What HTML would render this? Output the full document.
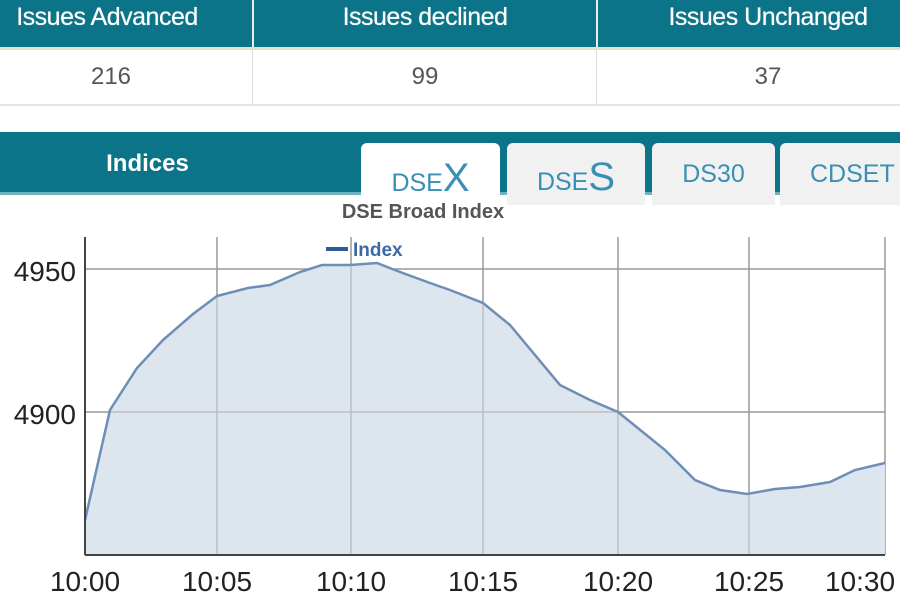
<!DOCTYPE html>
<html><head><meta charset="utf-8"><style>
body{margin:0;width:900px;height:600px;overflow:hidden;background:#fff;font-family:"Liberation Sans",Arial,sans-serif;position:relative}
.a{position:absolute}
.h{color:#fff;font-size:25px;text-align:center;top:3px;text-shadow:0 0 0.6px #fff;letter-spacing:-0.5px}
</style></head><body>
<div class="a" style="left:0;top:0;width:900px;height:47px;background:#0c7489"></div>
<div class="a" style="left:252px;top:0;width:2px;height:47px;background:#e8eef0"></div>
<div class="a" style="left:596px;top:0;width:2px;height:47px;background:#e8eef0"></div>
<div class="a h" style="left:0;width:214px">Issues Advanced</div>
<div class="a h" style="left:254px;width:342px">Issues declined</div>
<div class="a h" style="left:598px;width:340px;left:598px">Issues Unchanged</div>
<div class="a" style="left:0;top:47px;width:900px;height:3px;background:#e4ddd0"></div>
<div class="a" style="left:252px;top:50px;width:1px;height:55px;background:#ddd"></div>
<div class="a" style="left:596px;top:50px;width:1px;height:55px;background:#ddd"></div>
<div class="a" style="left:0;top:104px;width:900px;height:2px;background:#e4e4e4"></div>
<div class="a" style="left:0;top:63px;width:222px;text-align:center;color:#555;font-size:24px">216</div>
<div class="a" style="left:254px;top:63px;width:342px;text-align:center;color:#555;font-size:24px">99</div>
<div class="a" style="left:598px;top:63px;width:340px;text-align:center;color:#555;font-size:24px">37</div>
<div class="a" style="left:0;top:132px;width:900px;height:62px;background:#0c7489"></div>
<div class="a" style="left:0;top:192px;width:900px;height:3px;background:#6fb1bf"></div>
<div class="a" style="left:0;top:150px;width:295px;text-align:center;color:#fff;font-size:24px;font-weight:bold">Indices</div>
<div class="a" style="left:361px;top:143px;width:139px;height:64px;background:#fff;border-radius:6px 6px 0 0;text-align:center;color:#3a8fb5;font-size:25px;line-height:70px">DSE<span style="font-size:40px">X</span></div>
<div class="a" style="left:507px;top:143px;width:138px;height:62px;background:#f1f1f1;border-radius:6px 6px 0 0;text-align:center;color:#3a8fb5;font-size:25px;line-height:68px">DSE<span style="font-size:40px">S</span></div>
<div class="a" style="left:652px;top:143px;width:123px;height:62px;background:#f1f1f1;border-radius:6px 6px 0 0;text-align:center;color:#3a8fb5;font-size:25px;line-height:62px">DS30</div>
<div class="a" style="left:780px;top:143px;width:130px;height:62px;background:#f1f1f1;border-radius:6px 6px 0 0;color:#3a8fb5;font-size:25px;line-height:62px;padding-left:30px;box-sizing:border-box">CDSET</div>
<svg class="a" style="left:0;top:0" width="900" height="600">
<text x="423" y="218" text-anchor="middle" font-size="20" font-weight="bold" fill="#555">DSE Broad Index</text>
<rect x="326" y="247" width="22" height="4" fill="#2e5b9a"/>
<text x="353" y="256" font-size="19" font-weight="bold" fill="#3d6aa5">Index</text>
<g stroke="#999" stroke-width="1.5">
<line x1="85" y1="269" x2="885" y2="269"/><line x1="85" y1="412" x2="885" y2="412"/>
<line x1="217" y1="237" x2="217" y2="555"/><line x1="351" y1="237" x2="351" y2="555"/><line x1="483" y1="237" x2="483" y2="555"/><line x1="618" y1="237" x2="618" y2="555"/><line x1="749" y1="237" x2="749" y2="555"/><line x1="885" y1="237" x2="885" y2="555"/>
</g>
<path d="M85,520 L110,410 L137,368 L163,340 L193,314 L217,296 L248,288 L270,285 L300,272 L322,265 L350,265 L377,263 L400,272 L430,283 L450,290 L483,303 L510,325 L560,385 L590,400 L618,412 L665,450 L695,480 L720,490 L747,494 L775,489 L800,487 L830,482 L855,470 L885,463 L885,555 L85,555Z" fill="#dde5ef"/>
<polyline points="85,520 110,410 137,368 163,340 193,314 217,296 248,288 270,285 300,272 322,265 350,265 377,263 400,272 430,283 450,290 483,303 510,325 560,385 590,400 618,412 665,450 695,480 720,490 747,494 775,489 800,487 830,482 855,470 885,463" fill="none" stroke="#6d8fb5" stroke-width="2.5"/>
<g stroke="#999" stroke-width="1.2" opacity="0.6"><line x1="217" y1="296" x2="217" y2="555"/><line x1="351" y1="265" x2="351" y2="555"/><line x1="483" y1="303" x2="483" y2="555"/><line x1="618" y1="412" x2="618" y2="555"/><line x1="749" y1="494" x2="749" y2="555"/><line x1="110" y1="412" x2="618" y2="412"/></g>
<line x1="85" y1="237" x2="85" y2="555" stroke="#444" stroke-width="2"/>
<line x1="85" y1="555" x2="885" y2="555" stroke="#444" stroke-width="2"/>
<g font-size="28" fill="#222" text-anchor="end"><text x="76" y="281">4950</text><text x="76" y="424">4900</text></g>
<g font-size="28" fill="#222" text-anchor="middle"><text x="85" y="591">10:00</text><text x="217" y="591">10:05</text><text x="351" y="591">10:10</text><text x="483" y="591">10:15</text><text x="618" y="591">10:20</text><text x="749" y="591">10:25</text><text x="860" y="591">10:30</text></g>
</svg>
</body></html>
